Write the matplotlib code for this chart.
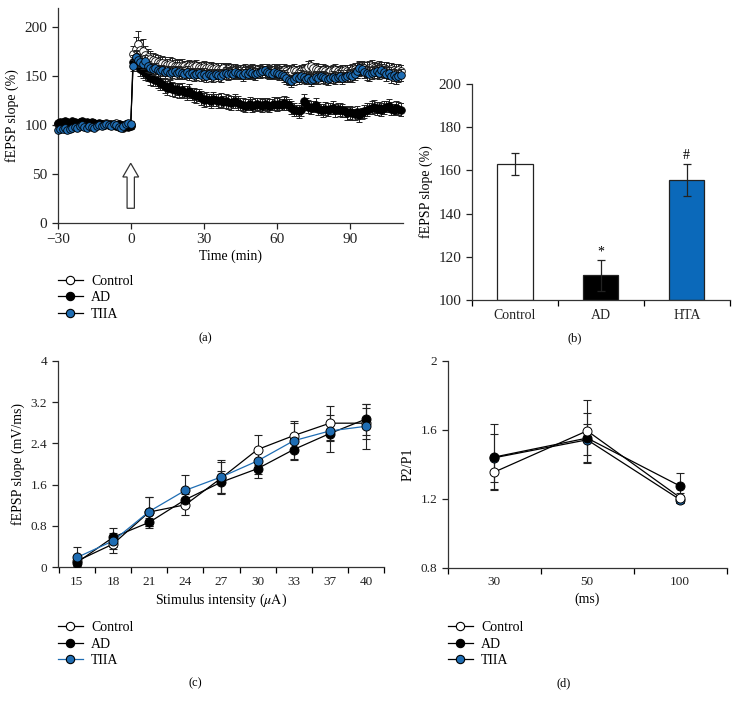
import matplotlib
matplotlib.use("Agg")
import matplotlib.pyplot as plt
import matplotlib.patches as mpatches
from matplotlib.lines import Line2D
import numpy as np

plt.rcParams['font.family'] = ['Liberation Serif', 'DejaVu Serif']
plt.rcParams['mathtext.fontset'] = 'stix'

BLUE = '#1f6db3'
BAR_BLUE = '#0b69ba'

# ---------------- Panel (a): LTP time course ----------------
time_base = list(range(-30, 1))
time_post = list(range(1, 112))

ctrl_base = [101, 102, 101, 100, 102, 101, 101, 102, 100, 101, 102, 101, 100, 101, 102, 101,
             100, 101, 101, 100, 102, 101, 100, 101, 102, 101, 100, 99, 101, 100, 100]
ad_base = [102, 103, 103, 104, 103, 102, 104, 103, 102, 103, 104, 102, 103, 102, 103, 102,
           101, 102, 101, 100, 101, 100, 101, 100, 99, 101, 100, 97, 100, 98, 99]
tiia_base = [95, 96, 96, 97, 95, 96, 97, 98, 97, 99, 100, 98, 97, 99, 98, 97,
             99, 100, 99, 100, 101, 100, 99, 101, 100, 98, 97, 99, 101, 102, 101]

ctrl_post = [173, 178, 183, 177, 176, 172, 170, 168, 167, 166,
             165, 164, 164, 163, 162, 163, 162, 161, 161, 160,
             161, 160, 159, 160, 160, 159, 160, 159, 158, 159,
             158, 159, 158, 157, 158, 157, 157, 158, 156, 157,
             156, 157, 156, 155, 156, 155, 156, 155, 155, 156,
             155, 156, 155, 156, 155, 156, 155, 155, 156, 155,
             156, 155, 156, 155, 154, 155, 156, 155, 154, 155,
             156, 157, 159, 160, 158, 157, 156, 155, 156, 155,
             154, 155, 155, 156, 155, 154, 155, 156, 155, 155,
             156, 157, 156, 158, 159, 158, 157, 158, 159, 158,
             157, 158, 157, 158, 157, 156, 157, 156, 155, 156, 155]
ad_post = [165, 170, 162, 157, 155, 153, 151, 148, 147, 146,
           145, 143, 142, 140, 138, 140, 137, 136, 137, 135,
           136, 134, 133, 135, 132, 131, 130, 131, 128, 126,
           127, 126, 125, 127, 126, 125, 126, 124, 125, 124,
           123, 124, 125, 123, 122, 121, 120, 121, 122, 120,
           121, 122, 121, 120, 122, 121, 120, 121, 122, 121,
           122, 121, 123, 122, 121, 118, 116, 115, 114, 116,
           125, 122, 119, 118, 119, 121, 117, 116, 115, 117,
           116, 117, 118, 115, 117, 116, 115, 114, 112, 113,
           112, 111, 113, 110, 112, 114, 116, 117, 118, 119,
           117, 118, 116, 118, 119, 120, 117, 116, 118, 117, 116]
tiia_post = [161, 170, 167, 165, 163, 166, 160, 158, 157, 158,
             156, 155, 156, 154, 155, 153, 154, 155, 153, 154,
             153, 152, 154, 152, 153, 151, 152, 153, 151, 152,
             150, 152, 151, 150, 152, 151, 150, 152, 153, 152,
             153, 152, 154, 153, 152, 151, 153, 152, 154, 153,
             152, 153, 154, 155, 156, 154, 153, 152, 154, 153,
             152, 151, 150, 148, 146, 145, 147, 149, 148, 150,
             149, 147, 148, 146, 147, 149, 148, 150, 149, 148,
             147, 148, 149, 148, 149, 150, 148, 149, 150, 151,
             150, 152, 155, 158, 157, 154, 153, 152, 153, 154,
             155, 153, 156, 154, 152, 153, 150, 151, 149, 150, 151]

base_err = [3, 3, 3, 2, 3, 3, 2, 3, 3, 2, 3, 3, 2, 3, 3, 2,
            3, 3, 2, 3, 3, 2, 3, 3, 2, 3, 3, 2, 3, 3, 3]
ctrl_post_err = [8, 12, 13, 10, 12, 9, 8, 8, 7, 7,
                 7, 6, 7, 7, 6, 7, 7, 6, 7, 7,
                 7, 6, 7, 7, 6, 7, 7, 6, 7, 7,
                 7, 6, 7, 7, 6, 7, 7, 6, 7, 7,
                 7, 6, 7, 7, 6, 7, 7, 6, 7, 7,
                 7, 6, 7, 7, 6, 7, 7, 6, 7, 7,
                 7, 6, 7, 7, 6, 7, 7, 6, 7, 7,
                 7, 6, 7, 7, 6, 7, 7, 6, 7, 7,
                 7, 6, 7, 7, 6, 7, 7, 6, 7, 7,
                 7, 7, 8, 8, 7, 7, 8, 8, 8, 7,
                 7, 8, 8, 7, 8, 8, 7, 7, 8, 7, 7]
ad_post_err = [7, 7, 7, 7, 7, 7, 6, 7, 7, 6,
               7, 7, 6, 7, 7, 6, 7, 7, 6, 7,
               7, 6, 7, 7, 6, 7, 7, 6, 7, 7,
               7, 6, 7, 7, 6, 7, 7, 6, 7, 7,
               7, 6, 7, 7, 6, 7, 7, 6, 7, 7,
               7, 6, 7, 7, 6, 7, 7, 6, 7, 7,
               7, 6, 7, 7, 6, 7, 7, 6, 7, 7,
               7, 6, 7, 7, 6, 7, 7, 6, 7, 7,
               7, 6, 7, 7, 6, 7, 7, 6, 7, 7,
               7, 6, 7, 7, 6, 7, 7, 6, 7, 7,
               7, 6, 7, 7, 6, 7, 7, 6, 7, 7, 7]
tiia_post_err = [6, 6, 6, 6, 6, 6, 6, 5, 6, 6,
                 6, 5, 6, 6, 5, 6, 6, 5, 6, 6,
                 6, 5, 6, 6, 5, 6, 6, 5, 6, 6,
                 6, 5, 6, 6, 5, 6, 6, 5, 6, 6,
                 6, 5, 6, 6, 5, 6, 6, 5, 6, 6,
                 6, 5, 6, 6, 5, 6, 6, 5, 6, 6,
                 6, 5, 6, 6, 5, 6, 6, 5, 6, 6,
                 6, 5, 6, 6, 5, 6, 6, 5, 6, 6,
                 6, 5, 6, 6, 5, 6, 6, 5, 6, 6,
                 6, 6, 7, 7, 6, 6, 7, 7, 6, 6,
                 7, 6, 7, 6, 7, 6, 7, 6, 7, 6, 6]

# ---------------- Panel (b): bar summary ----------------
bar_cats = ['Control', 'AD', 'HTA']
bar_vals = [163.0, 111.5, 155.5]
bar_err = [5.0, 7.0, 7.5]
bar_marks = ['', '*', '#']

# ---------------- Panel (c): input-output ----------------
stim_labels = ['15', '18', '21', '24', '27', '30', '33', '37', '40']
io_ctrl = [0.12, 0.45, 1.07, 1.21, 1.73, 2.28, 2.55, 2.79, 2.79]
io_ad = [0.09, 0.58, 0.87, 1.31, 1.65, 1.91, 2.28, 2.59, 2.87]
io_tiia = [0.19, 0.51, 1.08, 1.49, 1.75, 2.06, 2.45, 2.64, 2.73]
io_ctrl_err = [0.10, 0.17, 0.30, 0.20, 0.30, 0.29, 0.29, 0.33, 0.30]
io_ad_err = [0.08, 0.18, 0.08, 0.15, 0.22, 0.18, 0.20, 0.35, 0.30]
io_tiia_err = [0.21, 0.15, 0.28, 0.29, 0.33, 0.25, 0.35, 0.20, 0.44]

# ---------------- Panel (d): paired-pulse ----------------
ppf_labels = ['30', '50', '100']
ppf_ctrl = [1.355, 1.594, 1.207]
ppf_ad = [1.442, 1.552, 1.274]
ppf_tiia = [1.438, 1.542, 1.195]
ppf_ctrl_err = [0.10, 0.18, 0.03]
ppf_ad_err = [0.19, 0.145, 0.075]
ppf_tiia_err = [0.14, 0.09, 0.02]

series_names = ['Control', 'AD', 'TIIA']

LAB = 10          # axis labels / legends
CAP = 9           # panel captions
fig = plt.figure(figsize=(7.4, 7.1), dpi=100)


def style_axes(ax, tick_fs):
    for s in ['top', 'right']:
        ax.spines[s].set_visible(False)
    for s in ['left', 'bottom']:
        ax.spines[s].set_linewidth(0.9)
        ax.spines[s].set_color('#333333')
    ax.tick_params(direction='out', length=4, width=0.9, labelsize=tick_fs, colors='#222222')


def make_legend(ax, x, y, line_colors):
    handles = [
        Line2D([], [], color=line_colors[0], lw=0.9, marker='o', mfc='white', mec='black', ms=6, mew=0.8),
        Line2D([], [], color=line_colors[1], lw=0.9, marker='o', mfc='black', mec='black', ms=6, mew=0.8),
        Line2D([], [], color=line_colors[2], lw=0.9, marker='o', mfc=BLUE, mec='black', ms=6, mew=0.8),
    ]
    ax.legend(handles, series_names, loc='upper left', bbox_to_anchor=(x, y),
              bbox_transform=fig.transFigure, frameon=False, fontsize=LAB,
              borderpad=0, borderaxespad=0, handlelength=1.8, handletextpad=0.6,
              labelspacing=0.25)


# ----- (a)
axa = fig.add_axes([0.078, 0.686, 0.467, 0.303])
style_axes(axa, 11)
t_all = time_base + time_post
series_a = [
    (ctrl_base + ctrl_post, base_err + ctrl_post_err, 'white'),
    (ad_base + ad_post, base_err + ad_post_err, 'black'),
    (tiia_base + tiia_post, base_err + tiia_post_err, BLUE),
]
for z, (vals, errs, fc) in enumerate(series_a):
    axa.errorbar(t_all, vals, yerr=errs, fmt='none', ecolor='#222222', elinewidth=0.7,
                 capsize=2.5, capthick=0.7, zorder=2 + z)
    axa.plot(t_all, vals, '-', color='black', lw=0.8, marker='o', ms=5.5, mfc=fc,
             mec='black', mew=0.6, zorder=3 + z, clip_on=False)
arrow = mpatches.FancyArrow(0, 15, 0, 46, width=3.0, head_width=6.5, head_length=14,
                            length_includes_head=True, fc='white', ec='#333333', lw=0.9)
axa.add_patch(arrow)
axa.set_xlim(-30, 112)
axa.set_ylim(0, 220)
axa.set_xticks([-30, 0, 30, 60, 90])
axa.set_yticks([0, 50, 100, 150, 200])
axa.set_xlabel('Time (min)', fontsize=LAB, labelpad=2)
axa.set_ylabel('fEPSP slope (%)', fontsize=LAB, labelpad=4)
make_legend(axa, 0.078, 0.613, ['black', 'black', 'black'])
fig.text(0.277, 0.524, '(a)', ha='center', va='center', fontsize=CAP)

# ----- (b)
axb = fig.add_axes([0.638, 0.577, 0.348, 0.305])
style_axes(axb, 11)
xb = np.arange(len(bar_cats))
colors_b = ['white', 'black', BAR_BLUE]
axb.bar(xb, [v - 100 for v in bar_vals], bottom=100, width=0.41, color=colors_b,
        edgecolor='#222222', linewidth=0.9, zorder=2)
axb.errorbar(xb, bar_vals, yerr=bar_err, fmt='none', ecolor='#222222', elinewidth=0.9,
             capsize=3, capthick=0.9, zorder=3)
for x, v, e, m in zip(xb, bar_vals, bar_err, bar_marks):
    if m:
        axb.text(x, v + e + 0.8, m, ha='center', va='bottom', fontsize=LAB)
axb.set_xlim(-0.5, 2.5)
axb.set_ylim(100, 200)
axb.set_yticks([100, 120, 140, 160, 180, 200])
axb.set_xticks(xb)
axb.set_xticklabels(bar_cats, fontsize=LAB)
axb.set_xticks([-0.5, 0.5, 1.5, 2.5], minor=True)
axb.tick_params(axis='x', which='major', length=0, pad=6)
axb.tick_params(axis='x', which='minor', length=4, width=0.9, direction='out')
axb.set_ylabel('fEPSP slope (%)', fontsize=LAB, labelpad=4)
fig.text(0.777, 0.524, '(b)', ha='center', va='center', fontsize=CAP)

# ----- (c)
axc = fig.add_axes([0.078, 0.201, 0.441, 0.291])
style_axes(axc, 9.5)
xc = np.arange(len(stim_labels))
series_c = [
    (io_ctrl, io_ctrl_err, 'white', 'black'),
    (io_ad, io_ad_err, 'black', 'black'),
    (io_tiia, io_tiia_err, BLUE, BLUE),
]
for z, (vals, errs, fc, lc) in enumerate(series_c):
    axc.errorbar(xc, vals, yerr=errs, fmt='none', ecolor='#222222', elinewidth=0.8,
                 capsize=3, capthick=0.8, zorder=2 + z)
    axc.plot(xc, vals, '-', color=lc, lw=0.9, zorder=3 + z)
    axc.plot(xc, vals, 'o', ms=6.5, mfc=fc, mec='black', mew=0.7, zorder=6 + z)
axc.set_xlim(-0.53, 8.5)
axc.set_ylim(0, 4)
axc.set_yticks([0, 0.8, 1.6, 2.4, 3.2, 4])
axc.set_yticklabels(['0', '0.8', '1.6', '2.4', '3.2', '4'])
axc.set_xticks(xc)
axc.set_xticklabels(stim_labels)
axc.set_xticks(np.arange(-0.5, 9, 1.0), minor=True)
axc.tick_params(axis='x', which='major', length=0, pad=6)
axc.tick_params(axis='x', which='minor', length=4, width=0.9, direction='out')
axc.set_xlabel(r'Stimulus intensity ($\mu\mathrm{A}$)', fontsize=LAB, labelpad=3)
axc.set_ylabel('fEPSP slope (mV/ms)', fontsize=LAB, labelpad=4)
make_legend(axc, 0.078, 0.125, ['black', 'black', BLUE])
fig.text(0.264, 0.038, '(c)', ha='center', va='center', fontsize=CAP)

# ----- (d)
axd = fig.add_axes([0.605, 0.2, 0.377, 0.292])
style_axes(axd, 9.5)
xd = np.arange(len(ppf_labels))
series_d = [
    (ppf_ctrl, ppf_ctrl_err, 'white'),
    (ppf_ad, ppf_ad_err, 'black'),
    (ppf_tiia, ppf_tiia_err, BLUE),
]
order_d = [2, 1, 0]
for z, idx in enumerate(order_d):
    vals, errs, fc = series_d[idx]
    axd.errorbar(xd, vals, yerr=errs, fmt='none', ecolor='#222222', elinewidth=0.8,
                 capsize=3, capthick=0.8, zorder=2 + z)
    axd.plot(xd, vals, '-', color='black', lw=0.9, zorder=3 + z)
    axd.plot(xd, vals, 'o', ms=6.5, mfc=fc, mec='black', mew=0.7, zorder=6 + z)
axd.set_xlim(-0.5, 2.5)
axd.set_ylim(0.8, 2.0)
axd.set_yticks([0.8, 1.2, 1.6, 2.0])
axd.set_yticklabels(['0.8', '1.2', '1.6', '2'])
axd.set_xticks(xd)
axd.set_xticklabels(ppf_labels)
axd.set_xticks([-0.5, 0.5, 1.5, 2.5], minor=True)
axd.tick_params(axis='x', which='major', length=0, pad=6)
axd.tick_params(axis='x', which='minor', length=4, width=0.9, direction='out')
axd.set_xlabel('(ms)', fontsize=LAB, labelpad=3)
axd.set_ylabel('P2/P1', fontsize=LAB, labelpad=4)
make_legend(axd, 0.605, 0.125, ['black', 'black', 'black'])
fig.text(0.761, 0.038, '(d)', ha='center', va='center', fontsize=CAP)

fig.savefig('out.png', dpi=100, facecolor='white')
